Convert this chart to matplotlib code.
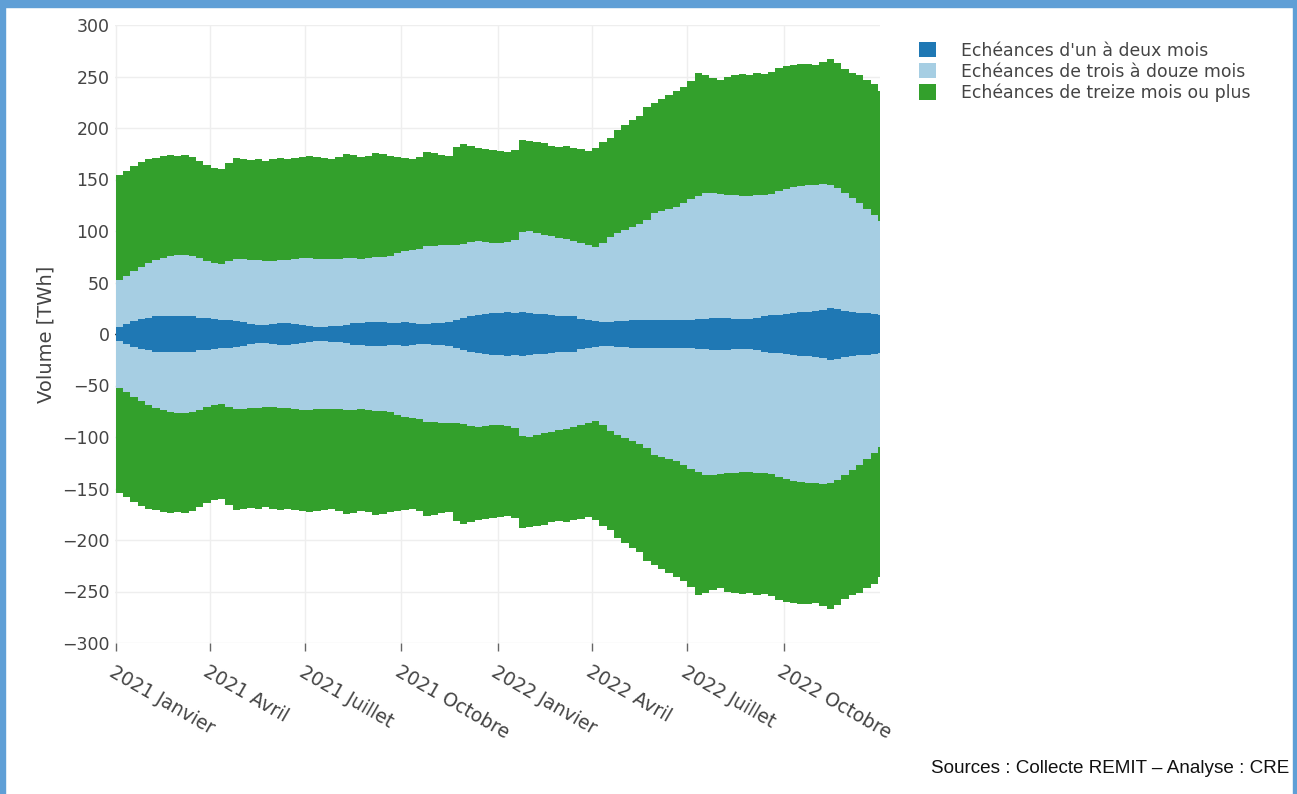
import numpy as np
import pandas as pd
import matplotlib
matplotlib.use("Agg")
import matplotlib.pyplot as plt
from matplotlib.patches import Patch, Rectangle

# ---- data (weekly readings, TWh; cumulative envelope of the stacked bars) ----
week_start = pd.date_range("2021-01-01", periods=105, freq="7D")

top_un_deux = [7, 10, 13, 15, 16, 17, 17, 17, 17, 17,
               17, 16, 16, 15, 14, 14, 13, 12, 10, 9,
               9, 10, 11, 11, 10, 9, 8, 7, 7, 8,
               8, 9, 11, 11, 12, 12, 12, 11, 11, 12,
               11, 10, 10, 11, 11, 12, 14, 16, 17, 18,
               19, 20, 20, 21, 20, 21, 20, 19, 19, 18,
               17, 17, 17, 15, 14, 13, 12, 12, 13, 13,
               14, 14, 14, 14, 14, 14, 14, 14, 14, 15,
               15, 16, 16, 16, 15, 15, 15, 16, 17, 18,
               18, 19, 20, 21, 21, 22, 23, 25, 24, 22,
               21, 20, 20, 19, 18]

top_trois_douze = [52, 56, 61, 65, 69, 72, 74, 76, 77, 77,
                   76, 74, 71, 69, 68, 71, 73, 73, 72, 72,
                   71, 71, 72, 72, 73, 74, 74, 73, 73, 73,
                   73, 74, 74, 73, 74, 75, 75, 76, 79, 81,
                   82, 83, 85, 85, 86, 86, 86, 87, 89, 90,
                   89, 88, 88, 89, 91, 99, 100, 98, 96, 95,
                   93, 92, 90, 88, 86, 84, 88, 94, 98, 101,
                   104, 107, 111, 117, 119, 121, 123, 127, 131, 134,
                   137, 137, 136, 135, 135, 134, 134, 135, 135, 136,
                   139, 141, 143, 144, 145, 145, 146, 145, 142, 137,
                   132, 127, 121, 116, 110]

top_treize = [154, 158, 163, 167, 170, 171, 173, 174, 173, 174,
              172, 168, 164, 161, 160, 166, 171, 170, 169, 170,
              168, 170, 171, 170, 171, 172, 173, 172, 171, 170,
              172, 175, 174, 172, 173, 176, 175, 173, 172, 171,
              170, 172, 177, 176, 174, 173, 182, 184, 183, 181,
              180, 179, 178, 177, 179, 188, 187, 186, 185, 183,
              182, 183, 181, 180, 178, 181, 186, 190, 198, 203,
              208, 212, 220, 224, 228, 232, 236, 240, 246, 253,
              251, 249, 247, 250, 251, 252, 251, 253, 252, 254,
              258, 260, 261, 262, 262, 261, 264, 267, 263, 257,
              253, 251, 247, 243, 236]

series_labels = ["Echéances d'un à deux mois",
                 "Echéances de trois à douze mois",
                 "Echéances de treize mois ou plus"]
series_colors = ["#1f78b4", "#a6cee3", "#33a02c"]

tick_dates = ["2021-01-01", "2021-04-01", "2021-07-01", "2021-10-01",
              "2022-01-01", "2022-04-01", "2022-07-01", "2022-10-01"]
tick_labels = ["2021 Janvier", "2021 Avril", "2021 Juillet", "2021 Octobre",
               "2022 Janvier", "2022 Avril", "2022 Juillet", "2022 Octobre"]
y_ticks = list(range(-300, 301, 50))

# ---- figure ----
W, H = 1297, 794
fig = plt.figure(figsize=(W / 100, H / 100), dpi=100)
fig.patch.set_facecolor("white")

ax = fig.add_axes([115 / W, 1 - 643 / H, (880 - 115) / W, (643 - 25) / H])
ax.set_facecolor("white")

d1 = np.array(top_un_deux, dtype=float)
d2 = np.array(top_trois_douze, dtype=float)
d3 = np.array(top_treize, dtype=float)
levels = [(np.zeros_like(d1), d1), (d1, d2), (d2, d3)]

for (lo, hi), col in zip(levels, series_colors):
    for sign in (1, -1):
        ax.bar(week_start, sign * (hi - lo), bottom=sign * lo, width=7,
               align="edge", color=col, edgecolor="none", linewidth=0,
               zorder=2)

ax.axhline(0, color="#444444", lw=1, zorder=1)

ax.set_xlim(pd.Timestamp("2020-12-31 12:00"), pd.Timestamp("2023-01-01"))
ax.set_ylim(-300, 300)

ax.set_xticks([pd.Timestamp(d) for d in tick_dates])
ax.set_xticklabels(tick_labels, rotation=-30, ha="left", va="top",
                   rotation_mode="anchor", fontsize=13.5, color="#444444",
                   family="DejaVu Sans")
ax.tick_params(axis="x", length=6, width=1, color="#666666", pad=8)

ax.set_yticks(y_ticks)
ax.set_yticklabels([f"{v}".replace("-", "\u2212") for v in y_ticks],
                   fontsize=12.5, color="#444444", family="DejaVu Sans")
ax.tick_params(axis="y", length=0, pad=4)

ax.grid(True, color="#eeeeee", lw=1, zorder=0)
ax.set_axisbelow(True)
for s in ax.spines.values():
    s.set_visible(False)

ax.set_ylabel("Volume [TWh]", fontsize=14, color="#444444", labelpad=5,
              family="DejaVu Sans")

# legend
handles = [Patch(facecolor=c, edgecolor="none") for c in series_colors]
fig.legend(handles, series_labels, loc="upper left",
           bbox_to_anchor=(910 / W, 1 - 33 / H), frameon=False,
           handlelength=1.0, handleheight=1.0,
           handletextpad=1.45, labelspacing=0.17, borderpad=0,
           labelcolor="#444444", prop={"family": "DejaVu Sans", "size": 12.4})

# source
fig.text(1289 / W, 1 - 773 / H, "Sources : Collecte REMIT \u2013 Analyse : CRE",
         ha="right", va="baseline", fontsize=13.6, color="#111111",
         family="Liberation Sans")

# frame
frame_col = "#5f9fd6"
fig.patches.append(Rectangle((0, 0), 5 / W, 1, transform=fig.transFigure,
                             color=frame_col, zorder=10))
fig.patches.append(Rectangle((1 - 4 / W, 0), 4 / W, 1, transform=fig.transFigure,
                             color=frame_col, zorder=10))
fig.patches.append(Rectangle((0, 1 - 7 / H), 1, 7 / H, transform=fig.transFigure,
                             color=frame_col, zorder=10))

fig.savefig("out.png", dpi=100, facecolor="white")
